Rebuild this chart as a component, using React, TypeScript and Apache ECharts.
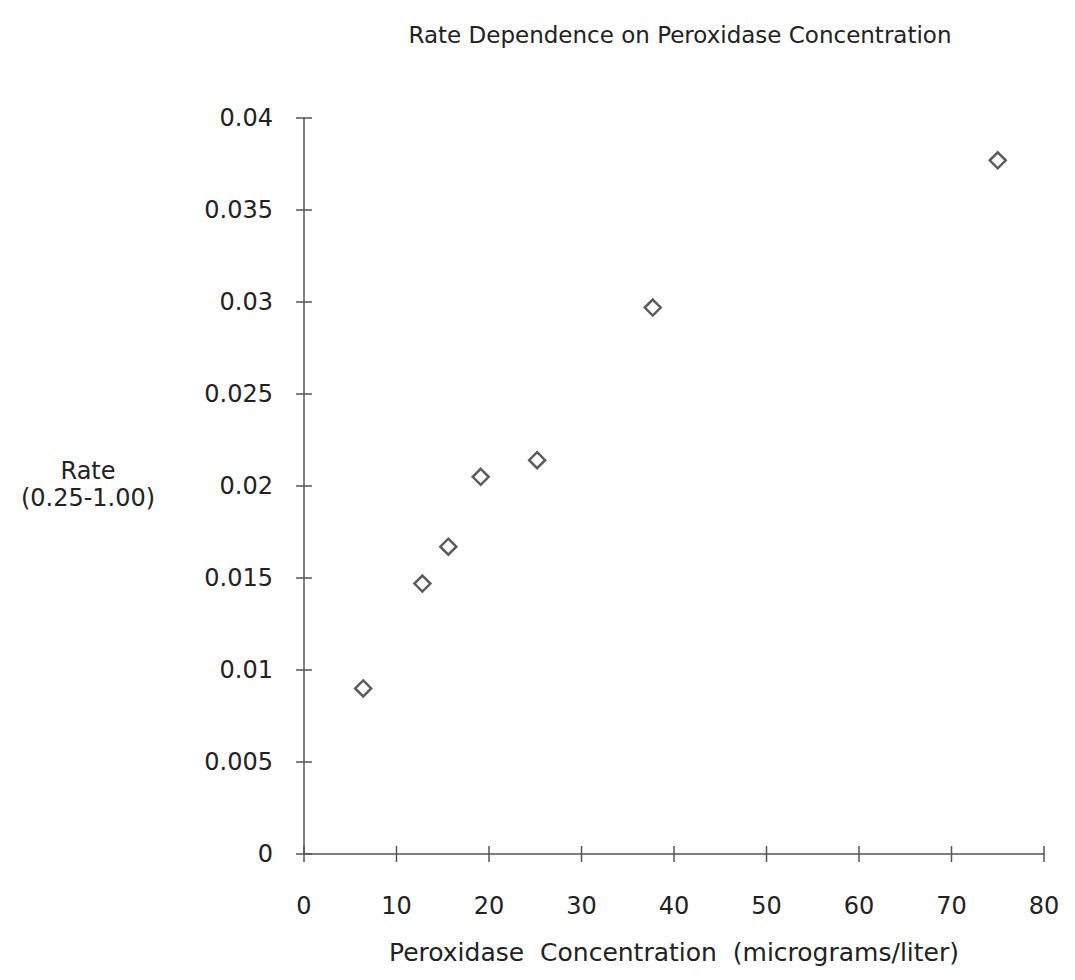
import React, { useEffect, useRef } from "react";
import * as echarts from "echarts";

const concentration = [6.4, 12.8, 15.6, 19.1, 25.2, 37.7, 75.0];
const rate = [0.009, 0.0147, 0.0167, 0.0205, 0.0214, 0.0297, 0.0377];
const xTicks = [0, 10, 20, 30, 40, 50, 60, 70, 80];
const yTicks = [0, 0.005, 0.01, 0.015, 0.02, 0.025, 0.03, 0.035, 0.04];

const FONT = "DejaVu Sans, Verdana, sans-serif";
const TEXT = "#222222";
const LINE = "#555555";
const TICK_HALF = 8;

export default function App() {
  const ref = useRef<HTMLDivElement>(null);
  useEffect(() => {
    if (!ref.current) return;
    const chart = echarts.init(ref.current, undefined, { renderer: "svg" });
    const points = concentration.map((c, i) => [c, rate[i]]);
    const xMin = xTicks[0];
    const xMax = xTicks[xTicks.length - 1];
    const yMin = yTicks[0];
    const yMax = yTicks[yTicks.length - 1];
    chart.setOption({
      animation: false,
      backgroundColor: "#ffffff",
      title: {
        text: "Rate Dependence on Peroxidase Concentration",
        left: 675,
        textAlign: "center",
        top: 18,
        textStyle: { fontFamily: FONT, fontSize: 23, fontWeight: "normal", color: TEXT },
      },
      grid: { left: 304, right: 31, top: 118, bottom: 126 },
      xAxis: {
        type: "value",
        min: xMin,
        max: xMax,
        interval: 10,
        splitLine: { show: false },
        axisLine: { show: true, onZero: false, lineStyle: { color: LINE, width: 1.5 } },
        axisTick: { show: false },
        axisLabel: { margin: 40, fontFamily: FONT, fontSize: 24, color: TEXT },
        name: "Peroxidase  Concentration  (micrograms/liter)",
        nameLocation: "middle",
        nameGap: 86,
        nameTextStyle: { fontFamily: FONT, fontSize: 25, color: TEXT },
      },
      yAxis: {
        type: "value",
        min: yMin,
        max: yMax,
        interval: 0.005,
        splitLine: { show: false },
        axisLine: { show: true, onZero: false, lineStyle: { color: LINE, width: 1.5 } },
        axisTick: { show: false },
        axisLabel: {
          margin: 31,
          fontFamily: FONT,
          fontSize: 24,
          color: TEXT,
          formatter: (v: number) => String(parseFloat(v.toFixed(3))),
        },
      },
      graphic: [
        {
          type: "text",
          x: 88,
          y: 457,
          style: {
            text: "Rate\n(0.25-1.00)",
            align: "center",
            fontFamily: FONT,
            fontSize: 24,
            lineHeight: 27,
            fill: TEXT,
          },
        },
      ],
      series: [
        {
          type: "custom",
          name: "xTicks",
          clip: false,
          silent: true,
          data: xTicks.map((t) => [t, yMin]),
          renderItem: (params: any, api: any) => {
            const p = api.coord([api.value(0), api.value(1)]);
            return {
              type: "line",
              shape: { x1: p[0], y1: p[1] - TICK_HALF, x2: p[0], y2: p[1] + TICK_HALF },
              style: { stroke: LINE, lineWidth: 1.5 },
            };
          },
        },
        {
          type: "custom",
          name: "yTicks",
          clip: false,
          silent: true,
          data: yTicks.map((t) => [xMin, t]),
          renderItem: (params: any, api: any) => {
            const p = api.coord([api.value(0), api.value(1)]);
            return {
              type: "line",
              shape: { x1: p[0] - TICK_HALF, y1: p[1], x2: p[0] + TICK_HALF, y2: p[1] },
              style: { stroke: LINE, lineWidth: 1.5 },
            };
          },
        },
        {
          type: "scatter",
          data: points,
          symbol: "diamond",
          symbolSize: 16,
          itemStyle: { color: "#ffffff", borderColor: "#333333", borderWidth: 2.5 },
        },
      ],
    });
    return () => chart.dispose();
  }, []);
  return (
    <div
      ref={ref}
      style={{ position: "absolute", left: 0, top: 0, width: 1075, height: 980 }}
    />
  );
}
